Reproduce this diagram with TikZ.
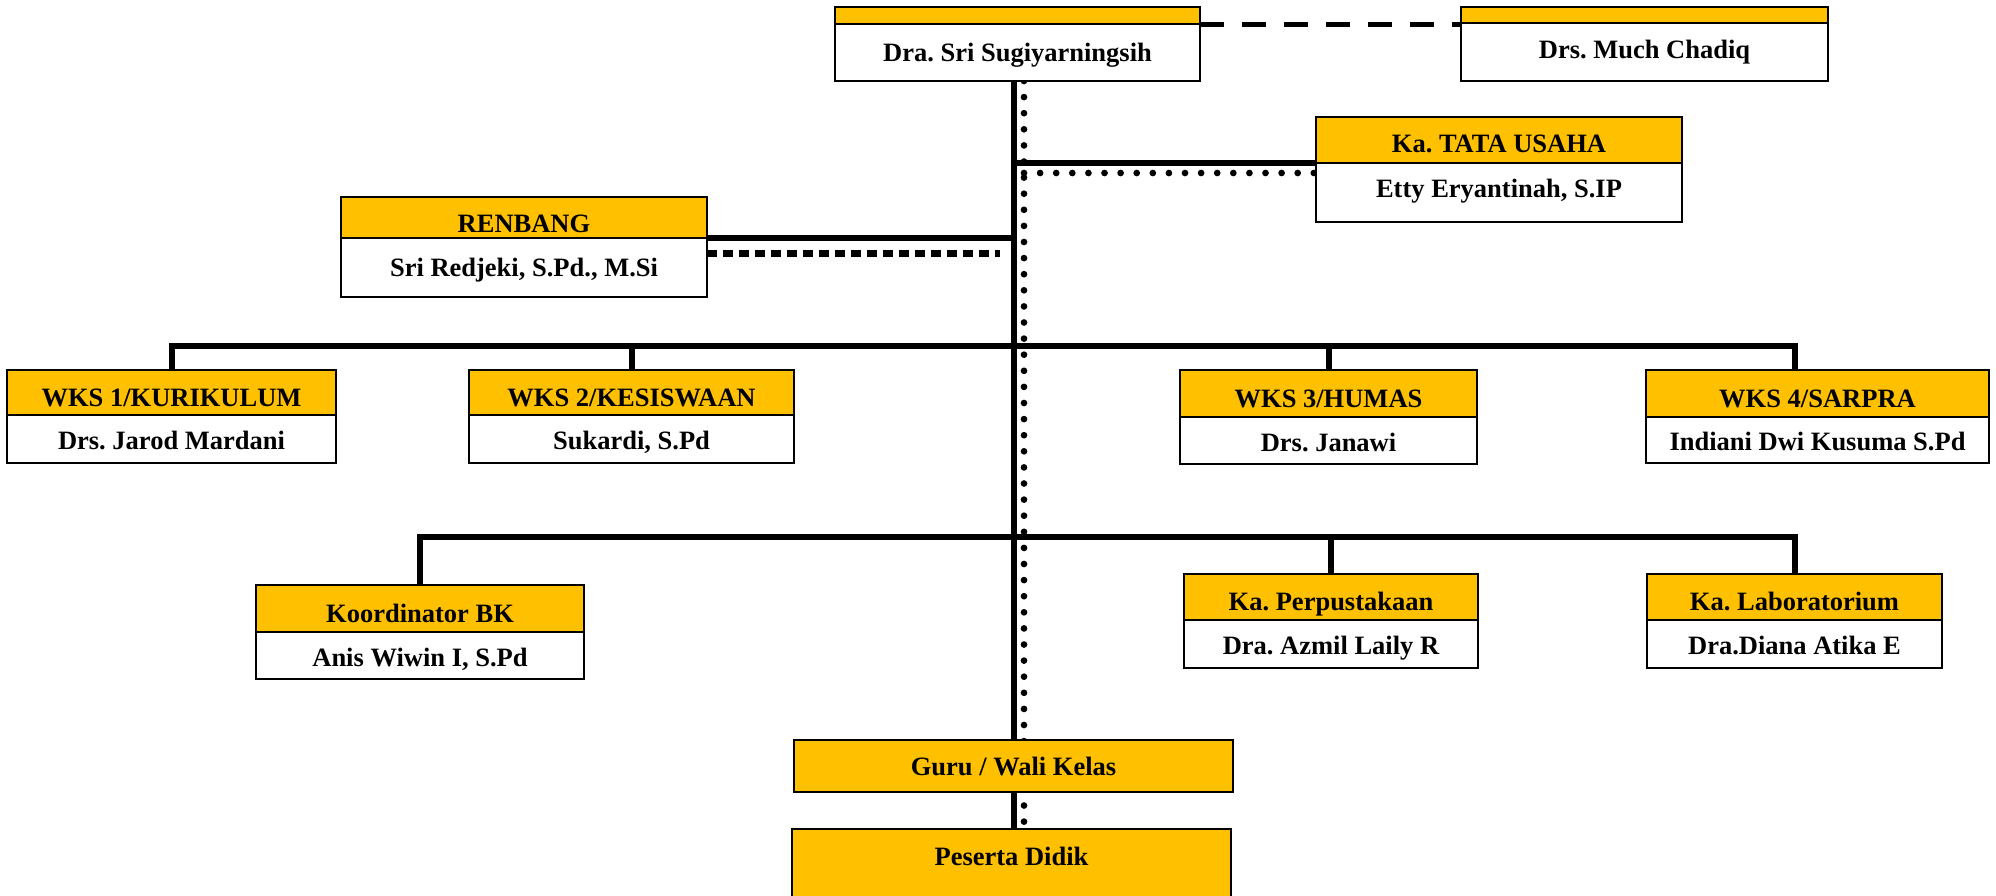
\documentclass[tikz,border=0pt]{standalone}
\usepackage{fontspec}
\setmainfont{Liberation Serif}
\usetikzlibrary{backgrounds}
\definecolor{gold}{HTML}{FFC000}
\frenchspacing
\begin{document}
\begin{tikzpicture}[x=1pt,y=-1pt,
  box/.style={draw, line width=1.5pt, inner sep=0pt, outer sep=0pt, anchor=north west,
    font=\frenchspacing\bfseries\fontsize{26.5}{30}\selectfont, text depth=0pt},
  hdr/.style={box, fill=gold, text height=27.5pt},
  bdy/.style={box, fill=white, text height=21.5pt},
  solidc/.style={line width=6pt},
  dotc/.style={line width=6.7pt, line cap=round, dash pattern=on 0pt off 16.1pt},
  sqc/.style={line width=7.3pt, dash pattern=on 10pt off 6pt},
  dashc/.style={line width=5pt, dash pattern=on 24pt off 18pt}]
\path[use as bounding box, clip] (0,0) rectangle (1996,895);

% top boxes
\node[box, fill=gold, minimum width=365pt, minimum height=17pt] (toph) at (835,7) {};
\node[bdy, text height=17.5pt, minimum width=365pt, minimum height=57pt] (topb) at (toph.south west) {Dra. Sri Sugiyarningsih};
\node[box, fill=gold, minimum width=367pt, minimum height=16pt] (chah) at (1461,7) {};
\node[bdy, text height=17.5pt, text depth=4pt, minimum width=367pt, minimum height=58pt] (chab) at (chah.south west) {Drs. Much Chadiq};

% tata usaha
\node[hdr, text height=25.5pt, minimum width=366pt, minimum height=46pt] (tatah) at (1316,117) {Ka. TATA USAHA};
\node[bdy, text height=17.5pt, text depth=7pt, minimum width=366pt, minimum height=59pt] (tatab) at (tatah.south west) {Etty Eryantinah, S.IP};

% renbang
\node[hdr, text height=30.5pt, minimum width=366pt, minimum height=41pt] (renh) at (341,197) {RENBANG};
\node[bdy, text height=17.5pt, minimum width=366pt, minimum height=59pt] (renb) at (renh.south west) {Sri Redjeki, S.Pd., M.Si};

% WKS row
\node[hdr, minimum width=329pt, minimum height=45pt] (wks1h) at (7,370) {WKS 1/KURIKULUM};
\node[bdy, minimum width=329pt, minimum height=48pt] (wks1b) at (wks1h.south west) {Drs. Jarod Mardani};
\node[hdr, minimum width=325pt, minimum height=45pt] (wks2h) at (469,370) {WKS 2/KESISWAAN};
\node[bdy, minimum width=325pt, minimum height=48pt] (wks2b) at (wks2h.south west) {Sukardi, S.Pd};
\node[hdr, minimum width=297pt, minimum height=47pt] (wks3h) at (1180,370) {WKS 3/HUMAS};
\node[bdy, minimum width=297pt, minimum height=47pt] (wks3b) at (wks3h.south west) {Drs. Janawi};
\node[hdr, minimum width=343pt, minimum height=47pt] (wks4h) at (1646,370) {WKS 4/SARPRA};
\node[bdy, minimum width=343pt, minimum height=46pt] (wks4b) at (wks4h.south west) {Indiani Dwi Kusuma S.Pd};

% second row
\node[hdr, minimum width=328pt, minimum height=47pt] (koordh) at (256,585) {Koordinator BK};
\node[bdy, minimum width=328pt, minimum height=47pt] (koordb) at (koordh.south west) {Anis Wiwin I, S.Pd};
\node[hdr, minimum width=294pt, minimum height=46pt] (perph) at (1184,574) {Ka. Perpustakaan};
\node[bdy, minimum width=294pt, minimum height=48pt] (perpb) at (perph.south west) {Dra. Azmil Laily R};
\node[hdr, minimum width=295pt, minimum height=46pt] (labh) at (1647,574) {Ka. Laboratorium};
\node[bdy, minimum width=295pt, minimum height=48pt] (labb) at (labh.south west) {Dra.Diana Atika E};

% bottom
\node[hdr, text height=19.5pt, minimum width=439pt, minimum height=52pt] (guru) at (794,740) {Guru / Wali Kelas};
\node[hdr, text height=17.5pt, text depth=15pt, minimum width=439pt, minimum height=71pt] (pes) at (792,829) {Peserta Didik};

\coordinate (spx) at (1014,0);
\coordinate (dtx) at (1024,0);
\coordinate (bus1) at (0,346);
\coordinate (bus2) at (0,537);
\coordinate (w4x) at (1795,0);
\coordinate (tdot) at (1316,173);
\coordinate (sqend) at (1000,253.5);

\begin{scope}[on background layer]
\draw[solidc] (topb.south -| spx) -- (pes.north -| spx);
\draw[dotc] (topb.south -| dtx) -- (pes.north -| dtx);
\draw[dashc] (toph.south east) -- (toph.south east -| chah.west);
\draw[solidc] (tatah.south west -| spx) -- (tatah.south west);
\draw[dotc] (tdot -| dtx) -- (tdot);
\draw[solidc] (renh.south east) -- (renh.south east -| spx);
\draw[sqc] (renh.south east |- sqend) -- (sqend);
\draw[solidc] (wks1h.north) |- (bus1 -| w4x) -- (wks4h.north -| w4x);
\draw[solidc] (wks2h.north) -- (wks2h.north |- bus1);
\draw[solidc] (wks3h.north) -- (wks3h.north |- bus1);
\draw[solidc] (koordh.north) |- (bus2 -| labh.north) -- (labh.north);
\draw[solidc] (perph.north) -- (perph.north |- bus2);
\end{scope}
\end{tikzpicture}
\end{document}
